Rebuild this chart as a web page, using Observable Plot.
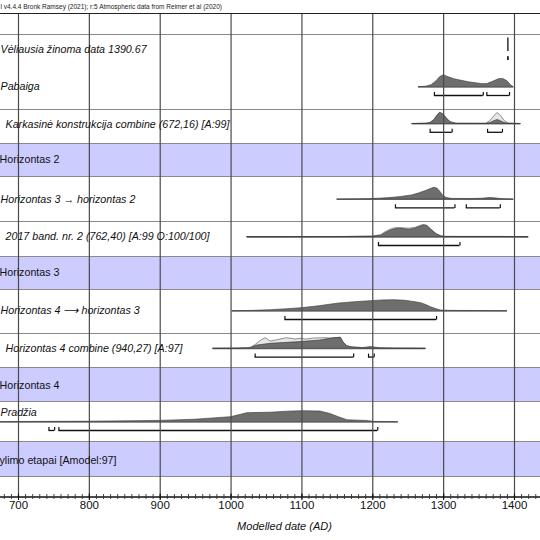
<!DOCTYPE html>
<html>
<head>
<meta charset="utf-8">
<script src="https://cdn.jsdelivr.net/npm/d3@7"></script>
<script src="https://cdn.jsdelivr.net/npm/@observablehq/plot@0.6"></script>
<style>
  html, body { margin: 0; padding: 0; background: #fff; }
  #chart svg { display: block; }
</style>
</head>
<body>
<div id="chart"></div>
<script>
// ---------- DATA ----------
const titleText = "l v4.4.4 Bronk Ramsey (2021); r:5 Atmospheric data from Reimer et al (2020)";
const axisTitle = "Modelled date (AD)";
const tickYears = [700, 800, 900, 1000, 1100, 1200, 1300, 1400];

const itemLabels = [
  "Vėliausia žinoma data 1390.67",
  "Pabaiga",
  "Karkasinė konstrukcija combine (672,16) [A:99]",
  "Horizontas 3 → horizontas 2",
  "2017 band. nr. 2 (762,40) [A:99 O:100/100]",
  "Horizontas 4 ⟶ horizontas 3",
  "Horizontas 4 combine (940,27) [A:97]",
  "Pradžia"
];
const bandLabels = ["Horizontas 2", "Horizontas 3", "Horizontas 4", "ylimo etapai [Amodel:97]"];

const latestDate = 1390.67;

// [year, relative probability]
const pabaigaPost = [[1265,0],[1275,0.5],[1283,2],[1290,6],[1295,10],[1300,12],[1305,10.5],[1315,8],[1325,6.5],[1335,5],[1345,4],[1355,3],[1362,3.2],[1370,5.5],[1378,8],[1384,8.3],[1390,6],[1395,2],[1399,0]];
const karkasLike = [[1256,0],[1280,0.5],[1287,4],[1292,9],[1295,11],[1300,9],[1305,5],[1310,2],[1318,0.3],[1360,0.2],[1366,3],[1372,8],[1376,11],[1381,8],[1386,3],[1392,0.5],[1409,0]];
const karkasPost = [[1256,0],[1275,0.2],[1282,1],[1287,4],[1292,9],[1295,11.3],[1299,10],[1304,6],[1308,2.5],[1313,0.8],[1320,0.2],[1360,0.2],[1366,1],[1372,3],[1376,4],[1380,3],[1386,1],[1392,0.2],[1409,0]];
const h3h2Post = [[1150,0],[1190,0.3],[1210,0.8],[1225,1.5],[1240,2.5],[1255,4],[1265,6],[1275,8.5],[1282,10.5],[1287,11.7],[1291,11],[1295,8],[1299,4],[1304,1.5],[1312,0.6],[1340,0.5],[1355,0.8],[1365,1.5],[1372,1.2],[1380,0.5],[1399,0]];
const band2017Like = [[1023,0],[1150,0.1],[1200,0.6],[1212,2],[1218,5],[1225,7.5],[1232,9],[1238,9.3],[1245,8.8],[1252,8.5],[1260,9.3],[1267,11.2],[1272,12.2],[1277,11.5],[1283,7.5],[1290,3],[1296,1],[1302,0.3],[1330,0.3],[1380,0.3],[1420,0]];
const band2017Post = [[1023,0],[1150,0.1],[1200,0.5],[1212,1.5],[1218,4],[1225,6.5],[1232,8],[1238,8.4],[1245,8],[1252,7.5],[1260,8.5],[1267,10.5],[1272,11.7],[1277,11],[1283,7],[1290,3],[1296,1],[1302,0.3],[1330,0.2],[1380,0.2],[1420,0]];
const h4h3Post = [[1002,0],[1030,0.3],[1056,1],[1080,2],[1100,3],[1125,5],[1150,7.5],[1175,9],[1197,10],[1215,10.8],[1230,11],[1245,10.5],[1260,9],[1268,8],[1276,6],[1282,4],[1290,2],[1296,0.7],[1310,0.3],[1350,0.2],[1390,0]];
const h4combLike = [[975,0],[1010,0.1],[1027,0.5],[1035,4],[1042,8],[1049,10.6],[1056,7.3],[1065,8.5],[1079,10.6],[1091,9.3],[1098,10],[1107,9.3],[1117,10.3],[1131,10.6],[1140,10.3],[1150,10.8],[1155,11],[1159,6],[1164,2.6],[1170,1.2],[1180,0.3],[1190,0],[1275,0]];
const h4combPost = [[975,0],[1010,0.2],[1027,0.5],[1037,3.3],[1056,5],[1080,6],[1098,6.7],[1126,8.3],[1140,10],[1150,10.8],[1155,11],[1159,6],[1164,2.6],[1170,1.6],[1178,1.2],[1186,0.8],[1192,1.2],[1197,1.8],[1203,1.2],[1210,0.6],[1230,0.3],[1275,0]];
const pradziaPost = [[660,0],[700,0.2],[800,0.5],[900,1.3],[950,2.5],[1000,5],[1023,9],[1056,9.5],[1080,10.5],[1100,11],[1126,10.7],[1140,8.3],[1152,5],[1164,2],[1180,1.5],[1192,1.3],[1202,0.3],[1236,0]];

// 95.4% ranges [from, to]
const latestRange = [[1390.67, 1390.67]];
const pabaigaRanges = [[1287,1356],[1361,1393]];
const karkasRanges = [[1281,1312],[1362,1383]];
const h3h2Ranges = [[1232,1316],[1332,1380]];
const band2017Ranges = [[1208,1323]];
const h4h3Ranges = [[1076,1290]];
const h4combRanges = [[1034,1173],[1194,1202]];
const pradziaRanges = [[743,751],[757,1207]];

// ---------- LAYOUT (vertical layout units = pixels of the 540px picture) ----------
const X0 = 674.6, X1 = 1436.7;
const frameTop = 13, axisY = 496.5;
const separators = [34, 109, 143, 176, 221, 256, 289, 333, 367, 401, 441, 476];
const bands = [[143,176],[256,289],[367,401],[441,476]];
const bandTextY = [159.5, 272.5, 385, 460.5];
const items = [
  {label: itemLabels[0], ty: 49,   base: 51,    indent: 0, post: null,         like: null,          ranges: latestRange},
  {label: itemLabels[1], ty: 86,   base: 86.7,  indent: 0, post: pabaigaPost,  like: null,          ranges: pabaigaRanges},
  {label: itemLabels[2], ty: 124,  base: 123.5, indent: 5, post: karkasPost,   like: karkasLike,    ranges: karkasRanges},
  {label: itemLabels[3], ty: 199,  base: 199,   indent: 0, post: h3h2Post,     like: null,          ranges: h3h2Ranges},
  {label: itemLabels[4], ty: 236.5,base: 236.7, indent: 5, post: band2017Post, like: band2017Like,  ranges: band2017Ranges},
  {label: itemLabels[5], ty: 310.5,base: 310.7, indent: 0, post: h4h3Post,     like: null,          ranges: h4h3Ranges},
  {label: itemLabels[6], ty: 348.5,base: 348.3, indent: 5, post: h4combPost,   like: h4combLike,    ranges: h4combRanges},
  {label: itemLabels[7], ty: 412.5,base: 421.7, indent: 0, post: pradziaPost,  like: null,          ranges: pradziaRanges}
];
const K = 1.0;
const bracketDrop = 8.3;
const bracketTick = 3;

const FONT = "'Liberation Sans', Arial, Helvetica, sans-serif";
const POST_FILL = "#6e6e6e", LIKE_FILL = "#e6e6e6";
const LABEL_SIZE = 10.7;

const marks = [];

marks.push(Plot.rect(bands, {x1: X0, x2: X1, y1: d => d[0], y2: d => d[1], fill: "#ccccff"}));
marks.push(Plot.ruleY(separators, {x1: X0, x2: X1, stroke: "#8a8a8a", strokeWidth: 1}));

for (const it of items) {
  const span = (it.like || it.post);
  if (span) {
    const xs = span.map(d => d[0]);
    marks.push(Plot.ruleY([it.base], {x1: Math.min(...xs), x2: Math.max(...xs), stroke: "#555", strokeWidth: 0.8}));
  }
  if (it.like) {
    marks.push(Plot.areaY(it.like, {x: d => d[0], y1: it.base, y2: d => it.base - d[1] * K, fill: LIKE_FILL, stroke: "#666", strokeWidth: 0.7}));
  }
  if (it.post) {
    marks.push(Plot.areaY(it.post, {x: d => d[0], y1: it.base, y2: d => it.base - d[1] * K, fill: POST_FILL, stroke: "#333", strokeWidth: 0.6}));
  }
  const by = it.base + bracketDrop;
  marks.push(Plot.ruleY(it.ranges, {x1: d => d[0], x2: d => d[1], y: by, stroke: "#111", strokeWidth: 1.3}));
  marks.push(Plot.ruleX(it.ranges.flat(), {x: d => d, y1: by - bracketTick, y2: by + 0.6, stroke: "#111", strokeWidth: 1.2}));
}
marks.push(Plot.ruleX([latestDate], {y1: items[0].base, y2: items[0].base - 13.5, stroke: "#222", strokeWidth: 1.4}));

marks.push(Plot.ruleX(tickYears, {y1: frameTop, y2: axisY, stroke: "#4a4a4a", strokeWidth: 1.2}));
marks.push(Plot.ruleY([frameTop], {x1: X0, x2: X1, stroke: "#222", strokeWidth: 1.2}));
marks.push(Plot.ruleY([axisY], {x1: X0, x2: X1, stroke: "#111", strokeWidth: 1.3}));
const minorTicks = d3.range(680, 1440, 10);
marks.push(Plot.ruleX(minorTicks, {y1: axisY - 2.5, y2: axisY + 2.5, stroke: "#333", strokeWidth: 0.9}));
marks.push(Plot.ruleX(tickYears, {y1: axisY - 3, y2: axisY + 3.5, stroke: "#111", strokeWidth: 1.1}));
marks.push(Plot.text(tickYears, {x: d => d, y: axisY + 8, text: d => String(d), fontSize: 11.5, fill: "#111", fontFamily: FONT, lineAnchor: "middle"}));

// labels (flush and indented)
for (const ind of [0, 5]) {
  marks.push(Plot.text(items.filter(d => d.indent === ind), {x: X0, y: "ty", dx: ind, text: "label", textAnchor: "start", lineAnchor: "middle", fontSize: LABEL_SIZE, fontStyle: "italic", fill: "#111", fontFamily: FONT}));
}
marks.push(Plot.text(bandLabels, {x: X0, y: (d, i) => bandTextY[i], dx: -1, text: d => d, textAnchor: "start", lineAnchor: "middle", fontSize: LABEL_SIZE, fill: "#111", fontFamily: FONT}));

marks.push(Plot.text([titleText], {x: X0, y: 6.5, text: d => d, textAnchor: "start", lineAnchor: "middle", fontSize: 6.5, fill: "#222", fontFamily: FONT}));
marks.push(Plot.text([axisTitle], {frameAnchor: "bottom", dy: -14, dx: 14, text: d => d, lineAnchor: "middle", fontSize: 11, fontStyle: "italic", fill: "#111", fontFamily: FONT}));

const chart = Plot.plot({
  width: 540,
  height: 540,
  margin: 0,
  x: {domain: [X0, X1], range: [0, 540], axis: null},
  y: {domain: [0, 540], range: [0, 540], axis: null},
  style: {background: "#fff", fontFamily: FONT},
  marks
});
document.getElementById("chart").appendChild(chart);
</script>
</body>
</html>
